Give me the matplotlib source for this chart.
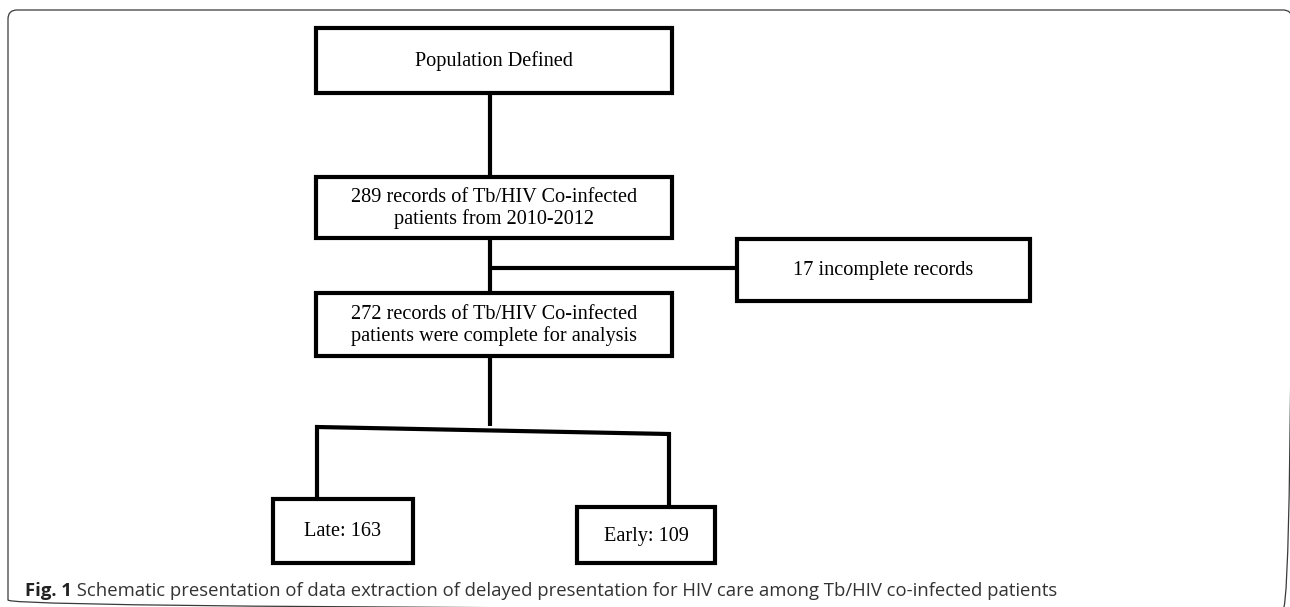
import matplotlib.pyplot as plt
from matplotlib.patches import Rectangle, FancyBboxPatch

# counts shown in the flow chart
total_records = 289
incomplete = 17
complete = 272
late = 163
early = 109

labels = [
    "Population Defined",
    "%d records of Tb/HIV Co-infected\npatients from 2010-2012" % total_records,
    "%d incomplete records" % incomplete,
    "%d records of Tb/HIV Co-infected\npatients were complete for analysis" % complete,
    "Late: %d" % late,
    "Early: %d" % early,
]
# box layout in pixels: left, top, right, bottom
boxes = [
    (316, 28, 672, 93),
    (316, 177, 672, 238),
    (737, 239, 1030, 301),
    (316, 293, 672, 356),
    (273, 499, 413, 563),
    (577, 507, 715, 563),
]

caption_bold = "Fig. 1"
caption = " Schematic presentation of data extraction of delayed presentation for HIV care among Tb/HIV co-infected patients"

fig = plt.figure(figsize=(12.9, 6.07), dpi=100)
ax = fig.add_axes([0, 0, 1, 1])
ax.set_xlim(0, 1290)
ax.set_ylim(607, 0)
ax.axis("off")

# outer frame, right and bottom edges run just past the image border
frame = FancyBboxPatch((8, 10), 1284, 599, boxstyle="round,pad=0,rounding_size=9",
                       fill=False, ec="#3a3a3a", lw=0.9, clip_on=False)
ax.add_patch(frame)

lw = 3.0
for (l, t, r, b), txt in zip(boxes, labels):
    ax.add_patch(Rectangle((l, t), r - l, b - t, fill=False, ec="black", lw=lw, zorder=3))
    ax.text((l + r) / 2, (t + b) / 2 + 1, txt, ha="center", va="center",
            family="Liberation Serif", fontsize=14.6, linespacing=1.2, zorder=4)

# connectors
cx = 490
ax.plot([cx, cx], [93, 177], color="black", lw=lw, solid_capstyle="butt")
ax.plot([cx, cx], [238, 293], color="black", lw=lw, solid_capstyle="butt")
ax.plot([cx, 737], [268, 268], color="black", lw=lw, solid_capstyle="butt")
ax.plot([cx, cx], [356, 426], color="black", lw=lw, solid_capstyle="butt")
ax.plot([317, 317, 669, 669], [499, 427, 434, 507], color="black", lw=lw,
        solid_joinstyle="miter", solid_capstyle="butt")

# caption
t1 = ax.text(25, 596, caption_bold, ha="left", va="baseline", family="Open Sans",
             fontweight="bold", fontsize=13.3, color="#222222")
fig.canvas.draw()
bb = t1.get_window_extent()
x1 = ax.transData.inverted().transform((bb.x1, bb.y0))[0]
ax.text(x1, 596, caption, ha="left", va="baseline", family="Open Sans",
        fontsize=13.3, color="#333333")

fig.savefig("out.png", dpi=100)
